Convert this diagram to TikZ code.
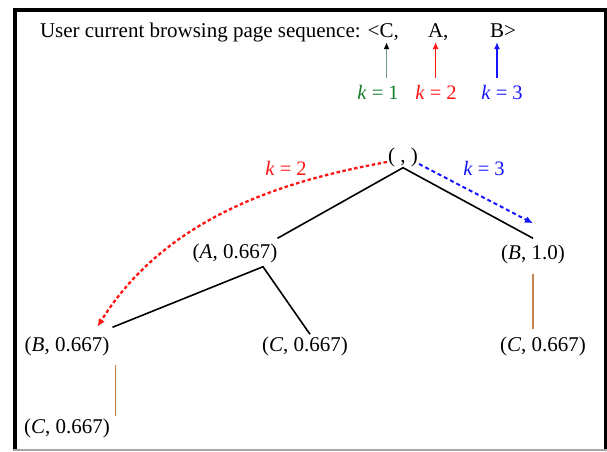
\documentclass[tikz,border=0pt]{standalone}
\usepackage{fontspec}
\setmainfont{Liberation Serif}
\usetikzlibrary{arrows.meta,calc}
\definecolor{kgreen}{RGB}{20,125,40}
\definecolor{kred}{RGB}{255,20,20}
\definecolor{kblue}{RGB}{20,20,255}
\definecolor{shaft}{RGB}{110,150,140}
\definecolor{thinline}{RGB}{200,130,75}
\begin{document}
\begin{tikzpicture}[x=1pt,y=-1pt,
  every node/.style={font=\fontsize{21}{25}\selectfont},
  seq/.style={inner sep=0pt,outer sep=0pt,anchor=base west},
  klab/.style={inner sep=1pt,font=\fontsize{20.5}{24}\selectfont},
  tree/.style={inner sep=1pt},
  edge/.style={line width=1.6pt,black},
  vline/.style={line width=1.1pt,thinline},
  karrow/.style={line width=1.7pt,shorten <=6pt,shorten >=5pt},
  ]
\useasboundingbox (0,0) rectangle (607,451);
\draw[line width=4pt] (15,451) -- (15,10) -- (605.5,10) -- (605.5,451);
\draw[line width=1.5pt, gray!70] (13,450) -- (607,450);

% sequence line
\node[seq] (t0) at (40,37) {User current browsing page sequence: <};
\node[seq] (sC) at (t0.base east) {C};
\node[seq] (t1) at (sC.base east) {,};
\node[seq] (sA) at (428,37) {A};
\node[seq] (t2) at (sA.base east) {,};
\node[seq] (sB) at (490,37) {B};
\node[seq] (t3) at (sB.base east) {>};

% k labels
\node[klab,text=kgreen] (k1) at (378,92) {\textit{k} = 1};
\node[klab,text=kred] (k2) at (436,92) {\textit{k} = 2};
\node[klab,text=kblue] (k3) at (502,92) {\textit{k} = 3};

\draw[karrow,shaft,-{Latex[length=7pt,width=6pt,color=black]}] (sC.south |- k1.north) -- (sC.south);
\draw[karrow,kred,-{Latex[length=7pt,width=6pt]}] (sA.south |- k2.north) -- (sA.south);
\draw[karrow,kblue,-{Latex[length=7pt,width=6pt]}] (sB.south |- k3.north) -- (sB.south);

% tree
\node[tree] (root) at (403,157) {( , )};
\node[klab,text=kred] (m2) at (286,168) {\textit{k} = 2};
\node[klab,text=kblue] (m3) at (484,168) {\textit{k} = 3};
\node[tree] (A) at (235,253) {(\textit{A}, 0.667)};
\node[tree] (B1) at (533,254) {(\textit{B}, 1.0)};
\node[tree] (B2) at (67,346) {(\textit{B}, 0.667)};
\node[tree] (C1) at (305,346) {(\textit{C}, 0.667)};
\node[tree] (C2) at (543,346) {(\textit{C}, 0.667)};
\node[tree] (C3) at (67,428) {(\textit{C}, 0.667)};

\draw[edge] ($(A.north east)+(-1,-4)$) -- (root.south) -- ($(B1.north)+(0,-5)$);
\coordinate (Af) at ($(A.south)+(28,3)$);
\draw[edge] ($(B2.north east)+(2,-8)$) -- (Af) -- ($(C1.north)+(5,-1)$);

\draw[vline] ($(B1.south)+(0,9)$) -- ($(B1.south |- C2.north)+(0,-6)$);
\draw[vline] ($(B2.south east)+(5,8)$) -- ($(B2.south east |- C3.north)+(5,-1)$);

% dashed arrows
\draw[kred, line width=2.3pt, dash pattern=on 3.5pt off 2.5pt, -{Latex[length=8pt,width=7pt]}]
  ($(root.west)+(0,5)$) .. controls (300,178) and (170,210) .. ($(B2.north east)+(-13,-8.5)$);
\draw[kblue, line width=2pt, dash pattern=on 4pt off 3pt, -{Latex[length=8pt,width=7pt]}]
  ($(root.east)+(0,7)$) -- ($(B1.north)+(0,-20)$);
\end{tikzpicture}
\end{document}
